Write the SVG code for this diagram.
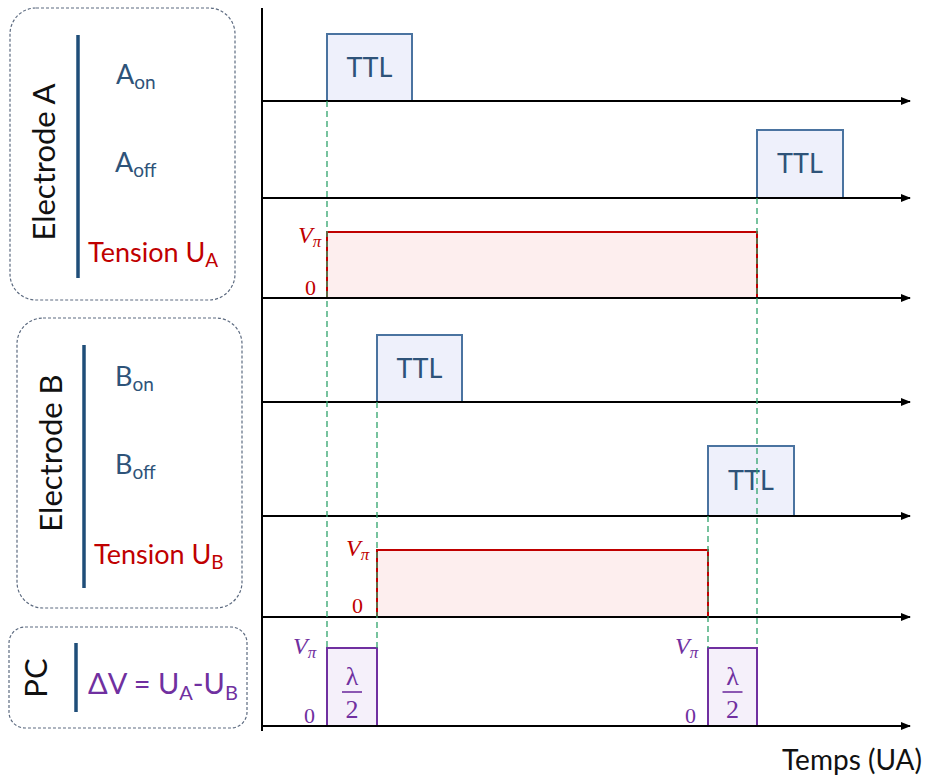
<svg xmlns="http://www.w3.org/2000/svg" width="930" height="780" viewBox="0 0 930 780">
<style>
.panel{fill:#fff;stroke:#5d6b80;stroke-width:1.2;stroke-dasharray:3 2}
.bar{stroke:#1f4e79;stroke-width:3.5}
.lbl{font-family:Lato,"Open Sans",sans-serif;font-size:27px;fill:#2e5379}
.title{font-family:Lato,"Open Sans",sans-serif;font-size:31px;fill:#111}
.red{font-family:Lato,"Open Sans",sans-serif;font-size:27px;fill:#c00000}
.pur{font-family:Lato,"Open Sans",sans-serif;font-size:29px;fill:#7030a0}
.axis{stroke:#000;stroke-width:2;fill:none}
.ttl{fill:#eef0fb;stroke:#4a73a0;stroke-width:2}
.ttlt{font-family:Lato,"Open Sans",sans-serif;font-size:27px;fill:#2e5379;text-anchor:middle}
.ua{fill:#fdeeee;stroke:#c00000;stroke-width:2}
.pc{fill:#f5f0fa;stroke:#7030a0;stroke-width:2}
.dash{stroke:#2fa36b;stroke-width:1.3;stroke-dasharray:6 4;fill:none}
.mr{font-family:"Liberation Serif",serif;font-style:italic;font-size:24px;fill:#c00000}
.mp{font-family:"Liberation Serif",serif;font-style:italic;font-size:24px;fill:#7030a0}
.zr{font-family:"Liberation Serif",serif;font-size:22px;fill:#c00000}
.zp{font-family:"Liberation Serif",serif;font-size:22px;fill:#7030a0}
.lam{font-family:"Liberation Serif",serif;font-size:26px;fill:#7030a0;text-anchor:middle}
</style>
<defs>
<marker id="ah" markerWidth="10" markerHeight="10" refX="9" refY="5" orient="auto" markerUnits="userSpaceOnUse">
<path d="M0,1 L10,5 L0,9 Z" fill="#000"/>
</marker>
</defs>

<g id="panel-A">
<rect class="panel" x="10" y="8" width="225" height="292" rx="26"/>
<line class="bar" x1="78" y1="35" x2="78" y2="278"/>
<text class="title" transform="translate(55,162) rotate(-90)" text-anchor="middle">Electrode A</text>
<text class="lbl" x="116" y="84">A<tspan font-size="19" dy="5">on</tspan></text>
<text class="lbl" x="115" y="172">A<tspan font-size="19" dy="5">off</tspan></text>
<text class="red" x="88" y="262">Tension U<tspan font-size="19" dy="5">A</tspan></text>
</g>

<g id="panel-B">
<rect class="panel" x="17" y="318" width="225" height="290" rx="26"/>
<line class="bar" x1="84" y1="345" x2="84" y2="588"/>
<text class="title" transform="translate(62,453) rotate(-90)" text-anchor="middle">Electrode B</text>
<text class="lbl" x="115" y="386">B<tspan font-size="19" dy="5">on</tspan></text>
<text class="lbl" x="115" y="474">B<tspan font-size="19" dy="5">off</tspan></text>
<text class="red" x="94" y="564">Tension U<tspan font-size="19" dy="5">B</tspan></text>
</g>

<g id="panel-PC">
<rect class="panel" x="9" y="627" width="238" height="101" rx="16"/>
<line class="bar" x1="76" y1="643" x2="76" y2="712"/>
<text class="title" transform="translate(47,678) rotate(-90)" text-anchor="middle">PC</text>
<text class="pur" x="88" y="694">ΔV = U<tspan font-size="20" dy="6">A</tspan><tspan dy="-6">-U</tspan><tspan font-size="20" dy="6">B</tspan></text>
</g>

<g id="pulses">
<rect class="ttl" x="327" y="34" width="85" height="67"/>
<text class="ttlt" x="369.5" y="77">TTL</text>
<rect class="ttl" x="757" y="130" width="86" height="68"/>
<text class="ttlt" x="800" y="173">TTL</text>
<rect class="ua" x="327" y="232" width="430" height="66"/>
<text class="mr" x="298" y="243">V<tspan font-size="17" dy="4">π</tspan></text>
<text class="zr" x="305" y="295">0</text>

<rect class="ttl" x="377" y="335" width="85" height="67"/>
<text class="ttlt" x="419.5" y="378">TTL</text>
<rect class="ttl" x="708" y="446" width="86" height="70"/>
<text class="ttlt" x="751" y="490">TTL</text>
<rect class="ua" x="377" y="550" width="331" height="67"/>
<text class="mr" x="346" y="556">V<tspan font-size="17" dy="4">π</tspan></text>
<text class="zr" x="352" y="613">0</text>

<rect class="pc" x="327" y="648" width="50" height="78"/>
<text class="mp" x="293" y="654">V<tspan font-size="17" dy="4">π</tspan></text>
<text class="zp" x="304" y="723">0</text>
<text class="lam" x="352" y="685">λ</text>
<line x1="342" y1="692" x2="362" y2="692" stroke="#7030a0" stroke-width="1.6"/>
<text class="lam" x="352" y="718">2</text>

<rect class="pc" x="708" y="648" width="49" height="78"/>
<text class="mp" x="675" y="654">V<tspan font-size="17" dy="4">π</tspan></text>
<text class="zp" x="685" y="723">0</text>
<text class="lam" x="732.5" y="685">λ</text>
<line x1="722.5" y1="692" x2="742.5" y2="692" stroke="#7030a0" stroke-width="1.6"/>
<text class="lam" x="732.5" y="718">2</text>
</g>

<g id="connectors">
<line class="axis" x1="262" y1="8" x2="262" y2="731"/>
<line class="axis" x1="262" y1="101" x2="910" y2="101" marker-end="url(#ah)"/>
<line class="axis" x1="262" y1="198" x2="910" y2="198" marker-end="url(#ah)"/>
<line class="axis" x1="262" y1="298" x2="910" y2="298" marker-end="url(#ah)"/>
<line class="axis" x1="262" y1="402" x2="910" y2="402" marker-end="url(#ah)"/>
<line class="axis" x1="262" y1="516" x2="910" y2="516" marker-end="url(#ah)"/>
<line class="axis" x1="262" y1="617" x2="910" y2="617" marker-end="url(#ah)"/>
<line class="axis" x1="262" y1="726" x2="910" y2="726" marker-end="url(#ah)"/>
<line class="dash" x1="327" y1="101" x2="327" y2="648"/>
<line class="dash" x1="377" y1="402" x2="377" y2="648"/>
<line class="dash" x1="708" y1="516" x2="708" y2="648"/>
<line class="dash" x1="757" y1="198" x2="757" y2="648"/>
</g>

<text x="782" y="770" font-family="Lato,'Open Sans',sans-serif" font-size="28" fill="#111">Temps (UA)</text>
</svg>
